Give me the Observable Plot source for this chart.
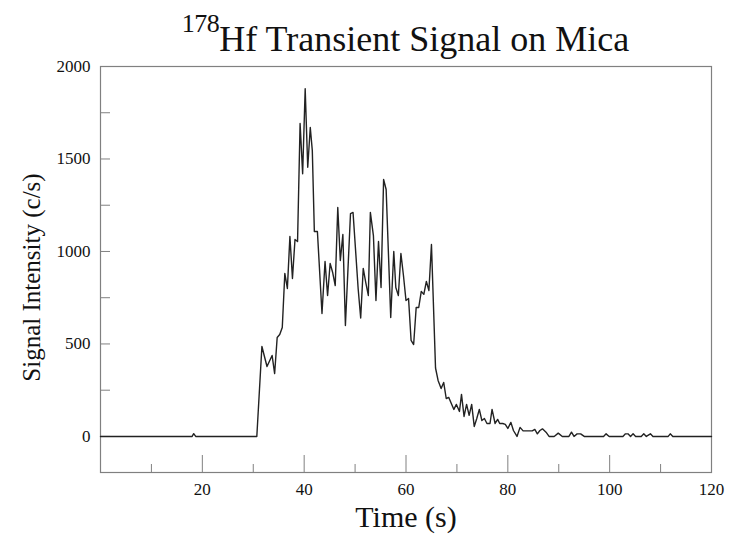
<!DOCTYPE html>
<html>
<head>
<meta charset="utf-8">
<script src="https://cdn.jsdelivr.net/npm/d3@7"></script>
<script src="https://cdn.jsdelivr.net/npm/@observablehq/plot@0.6"></script>
<style>
  body { margin: 0; background: #fff; }
  #wrap { position: relative; width: 729px; height: 544px; font-family: "Liberation Serif", "Times New Roman", serif; color: #111; }
  #title { position: absolute; left: 100px; width: 611px; top: 19px; text-align: center; font-size: 36px; line-height: 40px; white-space: nowrap; font-family: "Liberation Serif", serif; }
  #title sup { font-size: 26px; position: relative; top: -8px; vertical-align: top; line-height: 1; letter-spacing: -0.5px; }
  #chart svg { display: block; }
  #chart svg, #chart svg text { font-family: "Liberation Serif", serif !important; }
</style>
</head>
<body>
<div id="wrap">
  <div id="chart"></div>
  <div id="title"><sup>178</sup>Hf Transient Signal on Mica</div>
</div>
<script>
// Time (s) and signal intensity (c/s)
const time = [0, 18.0, 18.3, 18.7, 30.7, 31.7, 32.7, 33.7, 34.2, 34.7, 35.2, 35.7, 36.2, 36.7, 37.2, 37.7, 38.2, 38.7, 39.2, 39.7,
  40.2, 40.7, 41.2, 41.6, 42.0, 42.6, 43.5, 44.1, 44.6, 45.1, 45.6, 46.1, 46.6, 47.1, 47.6, 48.1, 49.1, 49.6, 50.6, 51.1,
  51.6, 52.1, 52.6, 53.0, 53.6, 54.1, 54.6, 55.1, 55.6, 56.1, 57.0, 57.6, 58.0, 58.5, 59.0, 59.5, 60.0, 60.5, 61.0, 61.5,
  62.0, 62.5, 63.0, 63.5, 64.0, 64.5, 65.0, 65.8, 66.3, 66.9, 67.4, 67.9, 68.4, 68.9, 69.4, 69.9, 70.5, 70.9, 71.4, 71.9,
  72.4, 72.9, 73.4, 73.9, 74.4, 74.9, 75.4, 75.9, 76.5, 76.9, 77.5, 78.0, 78.4, 79.0, 79.5, 80.0, 80.6, 81.1, 81.8, 82.4,
  83.0, 84.8, 85.3, 85.8, 86.3, 86.8, 87.5, 88.1, 89.1, 89.9, 90.7, 92.0, 92.5, 93.0, 93.6, 94.3, 95.0, 98.8, 99.3, 99.9,
  102.6, 103.1, 103.6, 104.1, 104.6, 105.1, 106.2, 106.7, 107.2, 108.0, 108.5, 111.5, 111.9, 112.4, 120];
const signal = [0, 0, 15, 0, 0, 486, 378, 438, 340, 535, 551, 589, 881, 800, 1081, 854, 1065, 1054, 1692, 1420,
  1880, 1455, 1670, 1545, 1108, 1108, 665, 946, 762, 935, 886, 816, 1238, 951, 1092, 600, 1205, 1211, 800, 640,
  908, 832, 762, 1211, 1086, 735, 1054, 805, 1389, 1335, 643, 1000, 805, 762, 989, 870, 735, 746, 519, 497,
  697, 697, 784, 768, 838, 789, 1038, 370, 303, 259, 292, 205, 211, 178, 146, 173, 135, 227, 108, 173,
  114, 173, 54, 97, 146, 86, 97, 70, 70, 146, 70, 92, 70, 70, 65, 43, 76, 32, 0, 49,
  30, 30, 38, 14, 32, 41, 23, 0, 0, 18, 0, 0, 23, 0, 14, 14, 0, 0, 14, 0,
  0, 14, 14, 0, 14, 0, 0, 14, 0, 14, 0, 0, 14, 0, 0];

const yLabelTicks = [0, 500, 1000, 1500, 2000];
const yMinorTicks = [0, 250, 500, 750, 1000, 1250, 1500, 1750, 2000];
const xLabelTicks = [20, 40, 60, 80, 100, 120];
const xMajorTicks = [20, 40, 60, 80, 100];
const xMinorTicks = [10, 30, 50, 70, 90, 110];

const data = time.map((t, i) => ({t, v: signal[i]}));

const chart = Plot.plot({
  width: 729,
  height: 544,
  marginLeft: 100,
  marginRight: 18,
  marginTop: 66,
  marginBottom: 72,
  style: {fontFamily: "Liberation Serif, serif", fontSize: "17px", color: "#111", background: "#fff"},
  x: {domain: [0, 120]},
  y: {domain: [-195, 2000]},
  marks: [
    Plot.frame({stroke: "#808080", strokeWidth: 1.2}),
    Plot.axisY(yMinorTicks, {tickSize: -10, tickFormat: () => "", label: null, stroke: "#808080"}),
    Plot.axisY(yLabelTicks, {tickSize: 0, tickPadding: 10, label: null, fill: "#111", tickFormat: d => String(d)}),
    Plot.axisX(xMajorTicks, {tickSize: -17, tickFormat: () => "", label: null, stroke: "#808080"}),
    Plot.axisX(xMinorTicks, {tickSize: -8, tickFormat: () => "", label: null, stroke: "#808080"}),
    Plot.axisX(xLabelTicks, {tickSize: 0, tickPadding: 10, label: null, fill: "#111", tickFormat: d => String(d)}),
    Plot.line(data, {x: "t", y: "v", stroke: "#222", strokeWidth: 1.4}),
    Plot.text(["Signal Intensity (c/s)"], {frameAnchor: "left", textAnchor: "middle", rotate: -90, dx: -69, dy: 8, fontSize: 25, fill: "#111"}),
    Plot.text(["Time (s)"], {frameAnchor: "bottom", dy: 54, fontSize: 30, fill: "#111"})
  ]
});
document.getElementById("chart").append(chart);
</script>
</body>
</html>
